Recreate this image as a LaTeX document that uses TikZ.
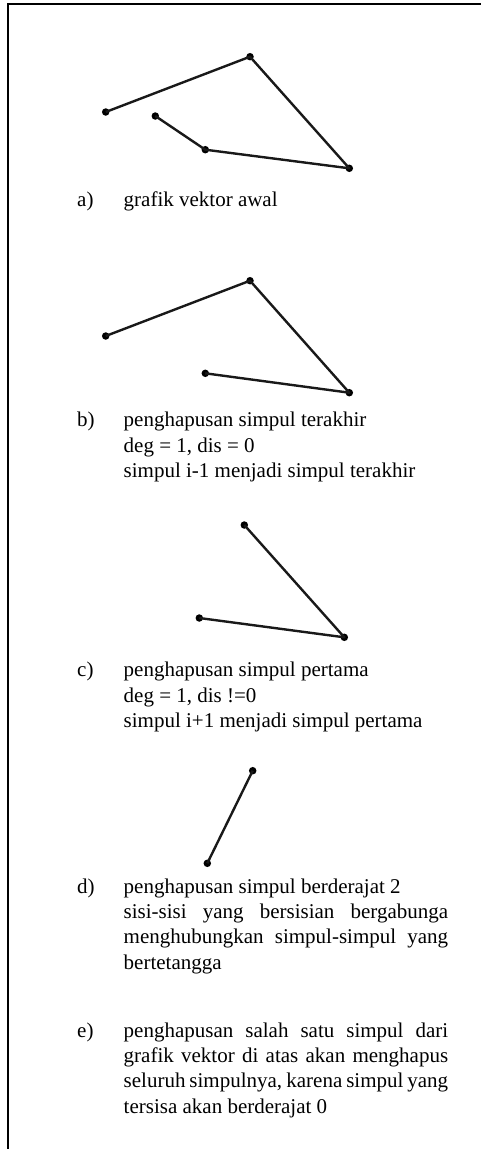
\documentclass[tikz,border=0pt]{standalone}
\usepackage{fontspec}
\setmainfont{Liberation Serif}
\begin{document}
\begin{tikzpicture}[x=1pt,y=-1pt,
  vtx/.style={circle,fill=black,inner sep=0pt,minimum size=7.5pt},
  edge/.style={line width=2.4pt,black!90},
  frameline/.style={line width=1.8pt,black},
  lbl/.style={anchor=base west,inner sep=0pt,font=\fontsize{21}{25.4}\selectfont},
  txt/.style={anchor=base west,inner sep=0pt,font=\fontsize{21}{25.4}\selectfont}]
\useasboundingbox (0,0) rectangle (481,1149);
\newlength{\colw}\setlength{\colw}{324.5pt}

% frame: top and left rules
\coordinate (fc) at (8,4);
\coordinate (ftr) at (481,4);
\coordinate (fbl) at (8,1149);
\draw[frameline] (ftr) -- (fc) -- (fbl);

% a) initial vector graph
\node[vtx] (a1) at (105.7,112) {};
\node[vtx] (a2) at (250,56.7) {};
\node[vtx] (a3) at (349.3,168.3) {};
\node[vtx] (a4) at (205.3,149.7) {};
\node[vtx] (a5) at (155.3,116) {};
\draw[edge,line join=round] (a1.center) -- (a2.center) -- (a3.center) -- (a4.center) -- (a5.center);
\node[lbl] (la) at (77,206) {a)};
\node[txt] (ta1) at (123.5,206) {grafik vektor awal};

% b) last vertex removed
\node[vtx] (b1) at (105.7,336) {};
\node[vtx] (b2) at (250,280.7) {};
\node[vtx] (b3) at (349.3,392.7) {};
\node[vtx] (b4) at (205.3,373.3) {};
\draw[edge,line join=round] (b1.center) -- (b2.center) -- (b3.center) -- (b4.center);
\node[lbl] (lb) at (77,426.7) {b)};
\node[txt] (tb1) at (123.5,426.7) {penghapusan simpul terakhir};
\node[txt] (tb2) at (123.5,452.1) {deg = 1, dis = 0};
\node[txt] (tb3) at (123.5,477.5) {simpul i-1 menjadi simpul terakhir};

% c) first vertex removed
\node[vtx] (c1) at (244.3,525) {};
\node[vtx] (c2) at (344.3,637.3) {};
\node[vtx] (c3) at (199.3,618) {};
\draw[edge,line join=round] (c1.center) -- (c2.center) -- (c3.center);
\node[lbl] (lc) at (77,676.7) {c)};
\node[txt] (tc1) at (123.5,676.7) {penghapusan simpul pertama};
\node[txt] (tc2) at (123.5,702.1) {deg = 1, dis !=0};
\node[txt] (tc3) at (123.5,727.5) {simpul i+1 menjadi simpul pertama};

% d) degree-2 vertex removed
\node[vtx] (d1) at (252.7,770.7) {};
\node[vtx] (d2) at (207.3,863.3) {};
\draw[edge] (d1.center) -- (d2.center);
\node[lbl] (ld) at (77,893) {d)};
\node[txt] (td1) at (123.5,893) {penghapusan simpul berderajat 2};
\node[txt] (td2) at (123.5,918.4) {\makebox[\colw][s]{sisi-sisi yang bersisian bergabunga}};
\node[txt] (td3) at (123.5,943.8) {\makebox[\colw][s]{menghubungkan simpul-simpul yang}};
\node[txt] (td4) at (123.5,969.2) {bertetangga};

% e) remaining vertices
\node[lbl] (le) at (77,1037) {e)};
\node[txt] (te1) at (123.5,1037) {\makebox[\colw][s]{penghapusan salah satu simpul dari}};
\node[txt] (te2) at (123.5,1062.4) {\makebox[\colw][s]{grafik vektor di atas akan menghapus}};
\node[txt] (te3) at (123.5,1087.8) {\makebox[\colw][s]{seluruh simpulnya, karena simpul yang}};
\node[txt] (te4) at (123.5,1113.2) {tersisa akan berderajat 0};
\end{tikzpicture}
\end{document}
